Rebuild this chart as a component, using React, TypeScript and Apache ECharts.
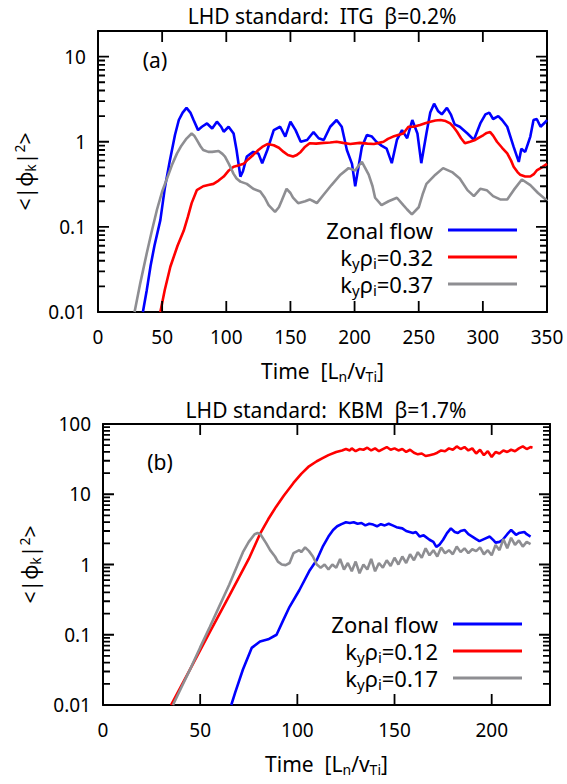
import { useEffect, useRef } from 'react';
import * as echarts from 'echarts';

const FONT = "'Noto Sans', 'DejaVu Sans', sans-serif";

// ---------- texts ----------
const titleA = 'LHD standard:  ITG  β=0.2%';
const titleB = 'LHD standard:  KBM  β=1.7%';
const panelA = '(a)';
const panelB = '(b)';
const seriesNamesA = ['Zonal flow', 'kyρi=0.32', 'kyρi=0.37'];
const seriesNamesB = ['Zonal flow', 'kyρi=0.12', 'kyρi=0.17'];
const yLabels: Record<string, string> = { '-2': '0.01', '-1': '0.1', '0': '1', '1': '10', '2': '100' };

// ---------- panel (a): ITG, beta = 0.2% ----------
const itgZonal: [number, number][] = [
  [35, 0.01], [38, 0.018], [41, 0.035], [44, 0.06], [48.6, 0.12], [52, 0.28], [56, 0.6], [60, 1.2],
  [63, 1.8], [66, 2.2], [69, 2.5], [72, 2.2], [74.5, 1.8], [78, 1.37], [81, 1.5], [85, 1.64],
  [89, 1.43], [92.7, 1.72], [96, 1.5], [98, 1.31], [101.8, 1.5], [105.7, 1.25], [108, 0.8],
  [111, 0.39], [113, 0.45], [116, 0.67], [121, 0.76], [125, 0.73], [128, 0.56], [132, 0.8],
  [137, 1.37], [142, 1.5], [146, 1.15], [150, 1.72], [154, 1.37], [158, 1.0], [163, 1.05],
  [168, 1.3], [172, 1.1], [176, 1.05], [181, 1.5], [186, 1.8], [190, 1.5], [194, 0.8],
  [198, 0.55], [200.5, 0.3], [203, 0.5], [205.7, 0.87], [209.6, 1.2], [213.5, 1.15], [217, 1.0],
  [221, 0.9], [225, 0.83], [229, 0.56], [233, 1.05], [237, 1.37], [241, 1.1], [245, 1.8],
  [249, 1.25], [252, 0.56], [256, 1.25], [259, 2.2], [262, 2.8], [265, 2.3], [268, 2.1],
  [272, 2.5], [275, 2.1], [278, 1.6], [282, 1.5], [288, 1.25], [293, 1.05], [298, 1.64],
  [302, 2.1], [305, 2.2], [308, 1.85], [312, 2.0], [315, 1.8], [319, 1.5], [324, 0.87],
  [328, 0.58], [330, 0.83], [333, 0.76], [337, 1.15], [339.5, 1.8], [342, 1.85], [345, 1.5],
  [349, 1.72], [350, 1.8],
];
const itgK032: [number, number][] = [
  [48.6, 0.01], [52, 0.018], [56.4, 0.034], [62, 0.06], [66.8, 0.09], [70, 0.13], [73, 0.19],
  [77, 0.27], [82, 0.3], [86, 0.31], [90, 0.32], [94, 0.35], [98, 0.39], [102, 0.46],
  [105.7, 0.51], [110, 0.53], [113.5, 0.55], [117, 0.62], [121, 0.7], [125, 0.8], [128, 0.87],
  [132, 0.94], [137, 0.91], [141, 0.85], [144.7, 0.76], [148, 0.7], [152, 0.67], [155, 0.7],
  [158, 0.76], [161, 0.86], [165, 0.96], [170, 0.95], [176, 0.97], [181, 0.98], [186, 1.0],
  [191, 0.97], [196.6, 0.94], [204, 0.97], [210, 0.95], [215, 0.94], [219, 0.97], [222.6, 1.0],
  [226, 1.08], [230, 1.15], [234, 1.2], [238, 1.25], [242, 1.5], [246, 1.5], [251, 1.57],
  [255, 1.65], [259, 1.72], [263, 1.78], [267, 1.8], [271, 1.75], [274.5, 1.64], [277, 1.5],
  [280, 1.3], [283, 1.1], [286, 0.96], [290, 1.0], [294, 1.05], [297, 1.12], [300.5, 1.2],
  [303, 1.27], [305.7, 1.3], [308, 1.18], [311, 1.0], [315, 0.85], [319, 0.73], [322, 0.6],
  [324, 0.51], [327, 0.44], [329, 0.41], [333, 0.39], [337, 0.39], [340, 0.42], [342, 0.46],
  [346, 0.5], [350, 0.55],
];
const itgK037: [number, number][] = [
  [28.5, 0.01], [33, 0.022], [38, 0.049], [42, 0.09], [46, 0.16], [50, 0.26], [53.8, 0.37],
  [58, 0.55], [61.6, 0.73], [65, 0.9], [69, 1.09], [73, 1.25], [75, 1.18], [77, 1.05], [80, 0.88],
  [82, 0.8], [86, 0.76], [89, 0.76], [94, 0.78], [97, 0.72], [99, 0.67], [102, 0.55],
  [105.7, 0.42], [108, 0.37], [111, 0.34], [116, 0.32], [121, 0.28], [126.5, 0.26], [130, 0.22],
  [133, 0.18], [138, 0.15], [141, 0.17], [143, 0.2], [147, 0.28], [150, 0.25], [152, 0.22],
  [156, 0.19], [161.5, 0.2], [165, 0.21], [168, 0.2], [170.6, 0.19], [176, 0.24], [182, 0.31],
  [189, 0.41], [195.3, 0.49], [200.5, 0.46], [203, 0.52], [205.7, 0.58], [208, 0.5], [211, 0.41],
  [214, 0.3], [216, 0.22], [221, 0.18], [226.5, 0.2], [233, 0.22], [238, 0.18], [241, 0.16],
  [244.7, 0.14], [250, 0.17], [253, 0.24], [256, 0.32], [263, 0.41], [269, 0.49], [276, 0.44],
  [282, 0.37], [288, 0.27], [293, 0.23], [298, 0.28], [303, 0.27], [308, 0.23], [313.5, 0.21],
  [319, 0.21], [324, 0.27], [330.4, 0.36], [337, 0.31], [343, 0.25], [349, 0.21], [350, 0.2],
];

// ---------- panel (b): KBM, beta = 1.7% ----------
const kbmZonal: [number, number][] = [
  [66, 0.01], [68, 0.015], [72, 0.032], [76.5, 0.065], [80.8, 0.08], [85, 0.086], [89.3, 0.1],
  [92.7, 0.16], [96, 0.25], [101, 0.43], [106.4, 0.83], [110, 1.16], [113, 1.78], [116, 2.5],
  [118.4, 3.1], [120.5, 3.5], [122.7, 3.76], [125, 4.0], [127, 3.9], [129, 4.0], [131, 3.8],
  [133, 3.9], [135, 3.6], [137, 3.8], [139, 3.7], [141, 3.5], [143, 3.75], [145, 3.6], [147, 3.8],
  [149, 3.6], [151, 3.4], [154, 3.27], [156, 3.0], [159.5, 2.8], [161, 2.9], [163, 2.5],
  [165, 2.6], [168, 2.25], [170, 2.1], [171.5, 1.78], [173, 1.9], [175, 2.25], [177, 2.8],
  [179, 3.27], [181, 2.9], [182.6, 2.8], [184, 3.0], [186, 3.1], [188, 2.7], [190, 2.5],
  [192, 2.3], [193.7, 2.15], [196, 2.3], [199, 2.5], [201, 2.2], [202, 2.05], [204, 2.1],
  [205.7, 2.25], [208, 2.7], [210, 3.1], [212.5, 2.65], [214, 2.8], [216.8, 2.9], [218, 2.7],
  [220, 2.5],
];
const kbmK012: [number, number][] = [
  [35, 0.01], [45, 0.033], [55, 0.11], [65, 0.36], [75, 1.2], [81, 2.8], [85, 4.4], [89, 6.6],
  [93, 9.5], [98, 14.5], [102, 19.5], [106, 25], [110, 29.5], [113, 32.6], [116, 36], [120, 40],
  [123, 42], [125, 44], [127, 42], [128, 45], [130, 41], [132, 44], [134, 43], [136, 46], [138, 42],
  [140, 45], [142, 41], [144, 44], [146, 47], [148, 43], [150, 45], [152, 42], [154, 44], [156, 40],
  [158, 43], [160, 39], [162, 37], [164, 38], [166, 35], [168, 36], [170, 37], [172, 39], [174, 42],
  [176, 41], [178, 45], [180, 43], [182, 48], [184, 44], [186, 47], [188, 42], [190, 45], [192, 38],
  [194, 43], [196, 36], [198, 41], [200, 34], [202, 40], [204, 38], [206, 42], [208, 40], [210, 43],
  [212, 41], [214, 45], [216, 48], [218, 44], [220, 47], [221, 46],
];
const kbmK017: [number, number][] = [
  [36, 0.01], [40, 0.017], [45, 0.033], [50, 0.066], [55, 0.13], [60, 0.26], [65, 0.52],
  [69, 0.95], [72, 1.5], [75, 2.1], [78, 2.7], [79.5, 2.8], [81, 2.7], [84, 2.0], [86, 1.6],
  [88.5, 1.3], [90, 1.1], [92, 1.0], [94, 0.98], [96, 1.05], [98, 1.45], [100, 1.55], [101, 1.6],
  [102, 1.5], [104, 1.75], [106, 1.55], [108, 1.3], [110, 1.0], [112, 0.9], [114, 1.0], [116, 0.85],
  [118, 1.0], [120, 0.9], [122, 1.2], [124, 0.85], [126, 1.05], [128, 0.8], [130, 1.1], [132, 0.75],
  [134, 1.0], [136, 0.85], [138, 1.2], [140, 0.8], [142, 1.05], [144, 0.9], [146, 1.15], [148, 0.95],
  [150, 1.25], [152, 1.0], [154, 1.3], [156, 1.05], [158, 1.4], [160, 1.15], [162, 1.5], [164, 1.25],
  [166, 1.7], [168, 1.35], [170, 1.6], [172, 1.3], [174, 1.75], [176, 1.45], [178, 1.6], [180, 1.4],
  [182, 1.8], [184, 1.5], [186, 1.7], [188, 1.45], [190, 1.65], [192, 1.55], [194, 1.75], [196, 1.4],
  [198, 1.6], [200, 1.35], [202, 1.9], [204, 1.6], [206, 2.3], [208, 1.7], [210, 2.4], [212, 1.9],
  [214, 2.2], [216, 1.8], [218, 2.1], [220, 1.95],
];

// ---------- axes ----------
const xRangeA = [0, 350];
const xRangeB = [0, 230];
const yRangeA = [0.01, 20];
const yRangeB = [0.01, 100];
const xMajorA = [50, 100, 150, 200, 250, 300];
const xMajorB = [50, 100, 150, 200];
const decadesA = [0.01, 0.1, 1, 10];
const decadesB = [0.01, 0.1, 1, 10, 100];
const minorMultipliers = [2, 3, 4, 5, 6, 7, 8, 9];

const COLORS = ['#0000ff', '#ff0000', '#8e8e92'];
const INK = '#000000';

const GRIDS = [
  { left: 98, top: 31, width: 449, height: 281 },
  { left: 103, top: 424, width: 447, height: 281 },
];
const MAJOR_LEN = 11;
const MINOR_LEN = 7;

const richFor = (size: number) => ({
  n: { fontSize: size, fontFamily: FONT, color: '#000' },
  s: { fontSize: Math.round(size * 0.68), fontFamily: FONT, color: '#000', padding: [11, 0, 0, 0] },
  p: { fontSize: Math.round(size * 0.68), fontFamily: FONT, color: '#000', padding: [0, 0, 11, 0] },
});

function legendText(name: string) {
  if (name === 'Zonal flow') return '{n|Zonal flow}';
  return `{n|k}{s|y}{n|ρ}{s|i}{n|=${name.split('=')[1]}}`;
}

function yLabel(v: number) {
  const l = Math.log10(v);
  const r = Math.round(l);
  if (Math.abs(l - r) > 1e-6) return '';
  return yLabels[String(r)] ?? '';
}

const xRanges = [xRangeA, xRangeB];
const yRanges = [yRangeA, yRangeB];

// Frame tick marks (gnuplot style, on all four sides), as broken line segments in data space.
function tickData(g: number) {
  const [x0, x1] = xRanges[g];
  const [y0, y1] = yRanges[g];
  const gr = GRIDS[g];
  const ux = (x1 - x0) / gr.width;
  const dec = Math.log10(y1 / y0) / gr.height;
  const up = (v: number, px: number) => v * Math.pow(10, px * dec);
  const pts: any[] = [];
  const seg = (a: [number, number], b: [number, number]) => {
    pts.push(a, b, [b[0], '-']);
  };
  const xMajor = g === 0 ? xMajorA : xMajorB;
  const decades = g === 0 ? decadesA : decadesB;
  xMajor.forEach((xv) => {
    seg([xv, y0], [xv, up(y0, MAJOR_LEN)]);
    seg([xv, y1], [xv, up(y1, -MAJOR_LEN)]);
  });
  decades.forEach((d) => {
    if (d > y0 * 1.0001 && d < y1 * 0.9999) {
      seg([x0, d], [x0 + MAJOR_LEN * ux, d]);
      seg([x1 - MAJOR_LEN * ux, d], [x1, d]);
    }
    minorMultipliers.forEach((m) => {
      const v = d * m;
      if (v <= y0 || v >= y1 * 0.9999) return;
      seg([x0, v], [x0 + MINOR_LEN * ux, v]);
      seg([x1 - MINOR_LEN * ux, v], [x1, v]);
    });
  });
  return pts;
}

const mkLine = () => ({ show: true, onZero: false, lineStyle: { color: INK, width: 2 } });
const noTick = () => ({ show: false });

function buildOption() {
  const xAxis: any[] = [];
  const yAxis: any[] = [];
  [0, 1].forEach((g) => {
    xAxis.push({
      type: 'value', gridIndex: g, min: xRanges[g][0], max: xRanges[g][1], interval: 50,
      position: 'bottom', axisLine: mkLine(), axisTick: noTick(), splitLine: { show: false },
      axisLabel: { fontSize: 19, fontFamily: FONT, color: '#000', margin: 15, showMaxLabel: g === 0,
        formatter: (v: number) => (v % 50 === 0 ? String(v) : '') },
      name: '{n|Time  [L}{s|n}{n|/v}{s|Ti}{n|]}', nameLocation: 'middle', nameGap: 46,
      nameTextStyle: { rich: richFor(21) },
    });
    xAxis.push({
      type: 'value', gridIndex: g, min: xRanges[g][0], max: xRanges[g][1], interval: 50,
      position: 'top', axisLine: mkLine(), axisTick: noTick(), splitLine: { show: false },
      axisLabel: { show: false },
    });
    yAxis.push({
      type: 'log', logBase: 10, gridIndex: g, min: yRanges[g][0], max: yRanges[g][1],
      position: 'left', axisLine: mkLine(), axisTick: noTick(), splitLine: { show: false },
      axisLabel: { fontSize: 19, fontFamily: FONT, color: '#000', margin: 12, showMaxLabel: g === 1,
        formatter: yLabel },
      name: '{n|<|φ}{s|k}{n||}{p|2}{n|>}', nameLocation: 'middle', nameRotate: 90, nameGap: 56,
      nameTextStyle: { rich: richFor(21) },
    });
    yAxis.push({
      type: 'log', logBase: 10, gridIndex: g, min: yRanges[g][0], max: yRanges[g][1],
      position: 'right', axisLine: mkLine(), axisTick: noTick(), splitLine: { show: false },
      axisLabel: { show: false },
    });
  });

  const lineSeries = (name: string, data: [number, number][], color: string, g: number) => ({
    type: 'line', name, data, xAxisIndex: g * 2, yAxisIndex: g * 2, showSymbol: false,
    symbol: 'none', color, lineStyle: { color, width: 2.6 },
  });

  const tickSeries = (g: number) => ({
    type: 'line', name: `frame ticks ${g}`, data: tickData(g), xAxisIndex: g * 2, yAxisIndex: g * 2,
    showSymbol: false, symbol: 'none', connectNulls: false, clip: false, silent: true, z: 6,
    color: INK, lineStyle: { color: INK, width: 1.8, cap: 'butt' }, tooltip: { show: false },
  });

  const series: any[] = [
    lineSeries(seriesNamesA[0], itgZonal, COLORS[0], 0),
    lineSeries(seriesNamesA[1], itgK032, COLORS[1], 0),
    lineSeries(seriesNamesA[2], itgK037, COLORS[2], 0),
    lineSeries(seriesNamesB[0], kbmZonal, COLORS[0], 1),
    lineSeries(seriesNamesB[1], kbmK012, COLORS[1], 1),
    lineSeries(seriesNamesB[2], kbmK017, COLORS[2], 1),
    tickSeries(0),
    tickSeries(1),
  ];

  const legendTopsA = [219, 246, 273];
  const legendTopsB = [613, 640, 667];
  const legends: any[] = [];
  seriesNamesA.forEach((n, i) => legends.push({ name: n, top: legendTopsA[i], right: 50 }));
  seriesNamesB.forEach((n, i) => legends.push({ name: n, top: legendTopsB[i], right: 45 }));

  const legend = legends.map((l) => ({
    data: [l.name], top: l.top, right: l.right, orient: 'vertical', align: 'right',
    icon: 'rect', itemWidth: 69, itemHeight: 3, padding: 0, itemGap: 0, selectedMode: false,
    formatter: legendText,
    textStyle: { fontSize: 22, fontFamily: FONT, color: '#000', padding: [0, 10, 0, 0], rich: richFor(22) },
  }));

  const txt = (text: string, x: number, y: number, size: number) => ({
    type: 'text', x, y, silent: true,
    style: { text, fontSize: size, fontFamily: FONT, fill: '#000', align: 'center', verticalAlign: 'middle' },
  });

  return {
    animation: false,
    grid: GRIDS,
    xAxis,
    yAxis,
    legend,
    series,
    graphic: [
      txt(titleA, 322, 16, 21),
      txt(titleB, 326, 410, 21),
      txt(panelA, 155, 60, 21),
      txt(panelB, 160, 462, 21),
    ],
  };
}

export default function App() {
  const ref = useRef<HTMLDivElement>(null);
  useEffect(() => {
    const chart = echarts.init(ref.current!, null, { renderer: 'svg' });
    chart.setOption(buildOption() as any);
    return () => chart.dispose();
  }, []);
  return (
    <div
      ref={ref}
      style={{ position: 'fixed', left: 0, top: 0, width: 567, height: 784, background: '#fff' }}
    />
  );
}
